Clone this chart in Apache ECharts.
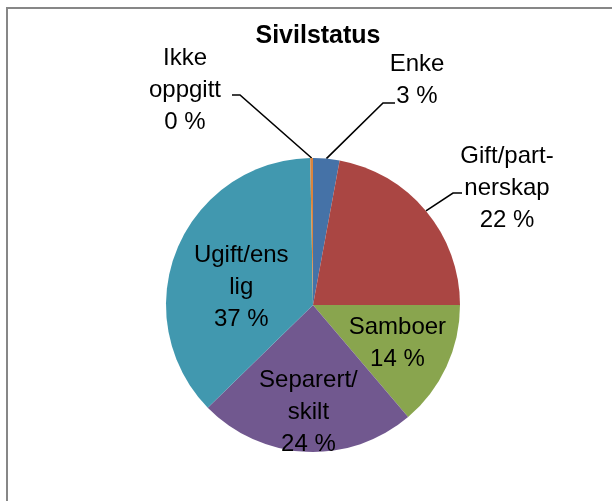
<!DOCTYPE html>
<html>
<head>
<meta charset="utf-8">
<script src="https://cdn.jsdelivr.net/npm/echarts@6/dist/echarts.min.js"></script>
<style>
  html, body { margin: 0; padding: 0; background: #ffffff; }
  #sivilstatusChart { width: 612px; height: 501px; }
</style>
</head>
<body>
<div id="sivilstatusChart"></div>
<script>
// categories as shown in the chart (wrapped the way the labels wrap)
const categories = ["Enke", "Gift/part-\nnerskap", "Samboer", "Separert/\nskilt", "Ugift/ens\nlig", "Ikke\noppgitt"];
// share in percent
const shares = [2.9, 22.1, 13.8, 23.9, 37.0, 0.3];
const sliceColors = ["#4572A7", "#AA4643", "#89A54E", "#71588F", "#4198AF", "#DB843D"];
// which labels sit outside with a leader line
const outsideLabels = [true, true, false, false, false, true];

const pieCenter = [313, 305];
const pieRadius = 147;

// nudges for inside labels / text anchors and leader line ends for outside labels
const labelPlace = [
  { x: 417, y: 80, knee: [383, 103], end: [395, 103] },
  { x: 507, y: 188, knee: [453, 193], end: [462, 193] },
  { dx: 15, dy: 6 },
  { dx: -1, dy: 31 },
  { dx: -1, dy: 11 },
  { x: 185, y: 90, knee: [240, 95], end: [232, 95] }
];

// edge point of a slice at its middle angle, from the data
function edgePoint(idx) {
  let total = 0;
  for (let v of shares) total += v;
  let before = 0;
  for (let i = 0; i < idx; i++) before += shares[i];
  let mid = ((before + shares[idx] / 2) / total) * Math.PI * 2;
  return [pieCenter[0] + pieRadius * Math.sin(mid), pieCenter[1] - pieRadius * Math.cos(mid)];
}

let chart = echarts.init(document.getElementById("sivilstatusChart"));

let dataList = [];
for (let i = 0; i < categories.length; i++) {
  dataList.push({
    name: categories[i],
    value: shares[i],
    itemStyle: { color: sliceColors[i] },
    label: { position: outsideLabels[i] ? "outside" : "inside" },
    labelLine: { show: outsideLabels[i] }
  });
}

let option = {
  animation: false,
  title: {
    text: "Sivilstatus",
    left: 313,
    top: 19,
    textAlign: "center",
    textStyle: {
      fontFamily: "Liberation Sans",
      fontSize: 25,
      fontWeight: "bold",
      color: "#000000"
    }
  },
  graphic: [
    {
      type: "rect",
      shape: { x: 7, y: 8, width: 700, height: 600 },
      style: { fill: "none", stroke: "#878787", lineWidth: 2 },
      silent: true
    }
  ],
  series: [
    {
      type: "pie",
      center: pieCenter,
      radius: pieRadius,
      startAngle: 90,
      clockwise: true,
      avoidLabelOverlap: false,
      data: dataList,
      itemStyle: { borderWidth: 0 },
      emphasis: { disabled: true },
      label: {
        show: true,
        color: "#000000",
        fontFamily: "Liberation Sans",
        fontSize: 24,
        lineHeight: 32,
        align: "center",
        formatter: function(params) {
          return params.name + "\n" + Math.round(params.percent) + " %";
        }
      },
      labelLine: {
        show: true,
        length: 20,
        length2: 10,
        lineStyle: { color: "#000000", width: 1.6 }
      },
      labelLayout: function(params) {
        let place = labelPlace[params.dataIndex];
        if (!outsideLabels[params.dataIndex]) {
          return { dx: place.dx, dy: place.dy };
        }
        return {
          x: place.x,
          y: place.y,
          align: "center",
          verticalAlign: "middle",
          labelLinePoints: [edgePoint(params.dataIndex), place.knee, place.end]
        };
      }
    }
  ]
};

chart.setOption(option);
</script>
</body>
</html>
